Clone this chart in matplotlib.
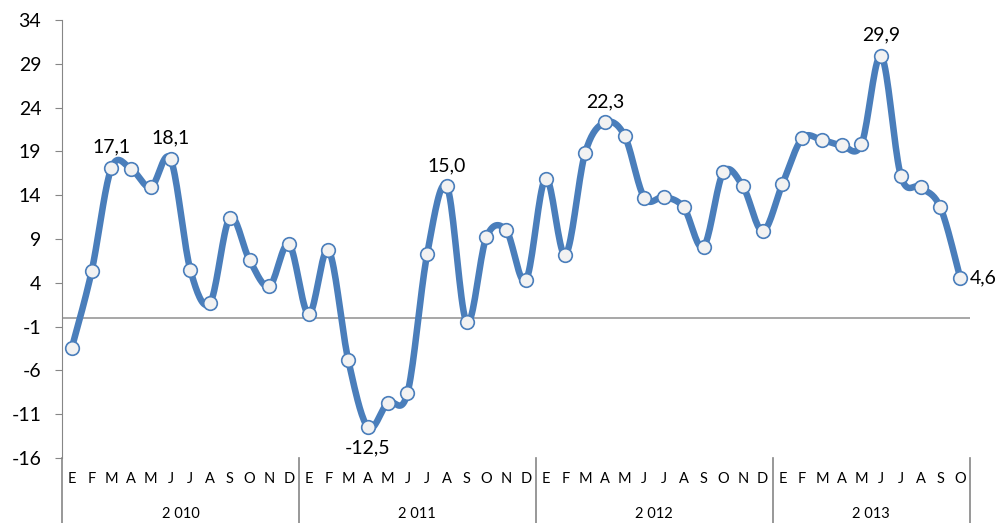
import numpy as np
import matplotlib
matplotlib.use('Agg')
import matplotlib.pyplot as plt

# monthly values 2010-01 .. 2013-10
years = ['2 010', '2 011', '2 012', '2 013']
months = ['E', 'F', 'M', 'A', 'M', 'J', 'J', 'A', 'S', 'O', 'N', 'D']
months_per_year = [12, 12, 12, 10]
v2010 = [-3.4, 5.3, 17.1, 17.0, 14.9, 18.1, 5.5, 1.7, 11.4, 6.6, 3.6, 8.4]
v2011 = [0.4, 7.7, -4.8, -12.5, -9.7, -8.6, 7.3, 15.0, -0.5, 9.2, 10.0, 4.3]
v2012 = [15.9, 7.2, 18.8, 22.3, 20.8, 13.7, 13.8, 12.6, 8.1, 16.6, 15.0, 9.9]
v2013 = [15.3, 20.5, 20.3, 19.7, 19.8, 29.9, 16.2, 14.9, 12.6, 4.6]
yticks = [-16, -11, -6, -1, 4, 9, 14, 19, 24, 29, 34]
labelled = [2, 5, 15, 19, 27, 41, 45]

values = np.array(v2010 + v2011 + v2012 + v2013)
month_labels = []
for n in months_per_year:
    month_labels += months[:n]
x = np.arange(len(values))

# smooth line like the spreadsheet one (catmull-rom through the points)
def smooth(xs, ys, steps=20):
    px = np.concatenate([[xs[0]], xs, [xs[-1]]])
    py = np.concatenate([[ys[0]], ys, [ys[-1]]])
    ox, oy = [], []
    t = np.linspace(0, 1, steps)
    for i in range(1, len(px) - 2):
        p0, p1, p2, p3 = py[i-1], py[i], py[i+1], py[i+2]
        q0, q1, q2, q3 = px[i-1], px[i], px[i+1], px[i+2]
        c1y, c2y = p1 + (p2 - p0) / 6, p2 - (p3 - p1) / 6
        c1x, c2x = q1 + (q2 - q0) / 6, q2 - (q3 - q1) / 6
        b0, b1, b2, b3 = (1-t)**3, 3*(1-t)**2*t, 3*(1-t)*t**2, t**3
        ox.append(b0*q1 + b1*c1x + b2*c2x + b3*q2)
        oy.append(b0*p1 + b1*c1y + b2*c2y + b3*p2)
    return np.concatenate(ox), np.concatenate(oy)

plt.rcParams['font.family'] = ['Lato', 'DejaVu Sans']
plt.rcParams['axes.unicode_minus'] = False
fig = plt.figure(figsize=(10, 5.23), dpi=100)
ax = fig.add_axes([0.062, 1 - 458/523, 0.908, 438/523])

blue = '#4a7ebb'
sx, sy = smooth(x.astype(float), values)
ax.plot(sx, sy, color=blue, lw=4.7, solid_capstyle='round', zorder=2)
ax.plot(x, values, 'o', ms=9.8, mfc='#f2f2f2', mec=blue, mew=1.2, zorder=3)
ax.axhline(0, color='#a0a0a0', lw=1.3, zorder=1)

for i in labelled:
    txt = f'{values[i]:.1f}'.replace('.', ',')
    if i == len(values) - 1:
        ax.annotate(txt, (x[i], values[i]), xytext=(7, 0), textcoords='offset points',
                    ha='left', va='center', fontsize=14)
    elif values[i] < 0:
        ax.annotate(txt, (x[i], values[i]), xytext=(0, -9), textcoords='offset points',
                    ha='center', va='top', fontsize=14)
    else:
        ax.annotate(txt, (x[i], values[i]), xytext=(0, 9), textcoords='offset points',
                    ha='center', va='bottom', fontsize=14)

ax.set_xlim(-0.5, len(values) - 0.5)
ax.set_ylim(-16, 34)
ax.set_yticks(yticks)
ax.tick_params(axis='y', labelsize=14, color='#868686', length=5, pad=10)
ax.set_xticks([])
for s in ['top', 'right', 'bottom']:
    ax.spines[s].set_visible(False)
ax.spines['left'].set_color('#868686')

# two level category axis
for i, lab in enumerate(month_labels):
    ax.text(x[i], -18.4, lab, ha='center', va='center', fontsize=10.5, clip_on=False)
start = 0
bounds = [-0.5]
for yr, n in zip(years, months_per_year):
    ax.text(start + (n - 1) / 2, -22.4, yr, ha='center', va='center', fontsize=10.5, clip_on=False)
    start += n
    bounds.append(start - 0.5)
for b in bounds:
    ax.plot([b, b], [-16, -23.9], color='#868686', lw=1.2, clip_on=False)

fig.savefig('out.png', dpi=100)
